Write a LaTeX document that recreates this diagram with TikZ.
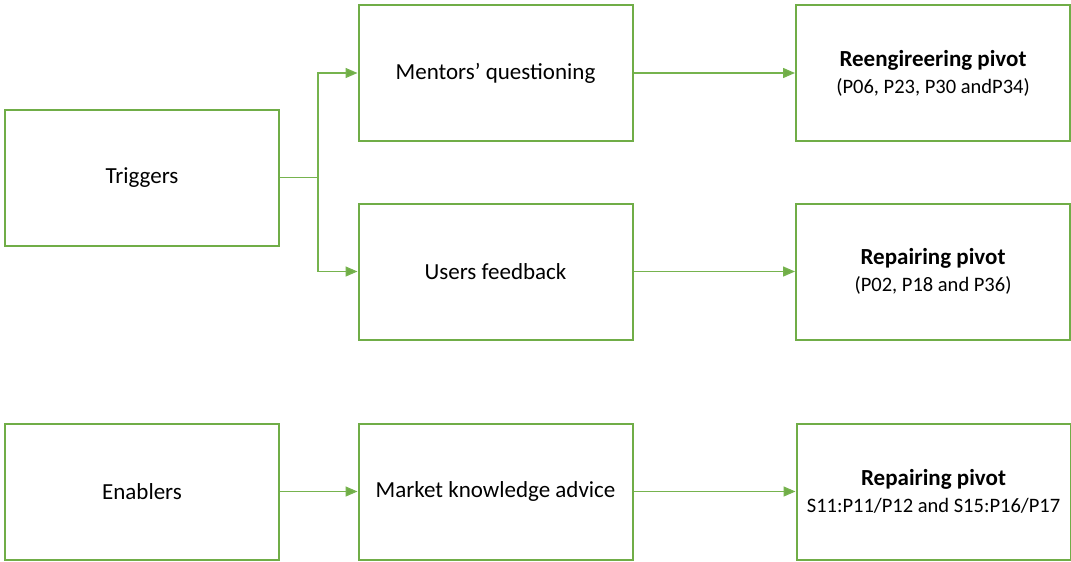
\documentclass[tikz,border=0pt]{standalone}
\usepackage{fontspec}
\setmainfont{Carlito}
\usetikzlibrary{arrows.meta}
\definecolor{boxgreen}{HTML}{70AD47}
\definecolor{linegreen}{HTML}{76B34E}
\begin{document}
\begin{tikzpicture}[x=1pt,y=-1pt,
  box/.style={draw=boxgreen,line width=2pt,fill=white,minimum width=274pt,minimum height=136pt,inner sep=0pt,align=center,font=\fontsize{23}{28}\selectfont},
  conn/.style={draw=linegreen,line width=1.4pt,-{Triangle[length=12pt,width=10pt,fill=boxgreen]}}]
\useasboundingbox (0,0) rectangle (1071,562);
\node[box] (trig) at (142,177.5) {\raisebox{-2pt}{Triggers}};
\node[box] (ment) at (495.5,73) {\raisebox{-2pt}{Mentors’ questioning}};
\node[box] (user) at (495.5,271.5) {\raisebox{-2pt}{Users feedback}};
\node[box] (reen) at (933,73) {\textbf{Reengireering pivot}\\[-1pt]{\fontsize{20.5}{24}\selectfont (P06, P23, P30 andP34)}};
\node[box] (rep1) at (933,271.5) {\textbf{Repairing pivot}\\[-1pt]{\fontsize{20.5}{24}\selectfont (P02, P18 and P36)}};
\node[box] (enab) at (142,491.5) {\raisebox{-2pt}{Enablers}};
\node[box] (mark) at (495.5,491.5) {\raisebox{-2pt}{Market knowledge advice}};
\node[box] (rep2) at (933.5,491.5) {\textbf{Repairing pivot}\\[-1pt]{\fontsize{20.5}{24}\selectfont S11:P11/P12 and S15:P16/P17}};
\coordinate (split) at (318,177.5);
\draw[draw=linegreen,line width=1.4pt] (trig.east) -- (split);
\draw[conn] (split) |- (ment.west);
\draw[conn] (split) |- (user.west);
\draw[conn] (ment.east) -- (reen.west);
\draw[conn] (user.east) -- (rep1.west);
\draw[conn] (enab.east) -- (mark.west);
\draw[conn] (mark.east) -- (rep2.west);
\end{tikzpicture}
\end{document}
